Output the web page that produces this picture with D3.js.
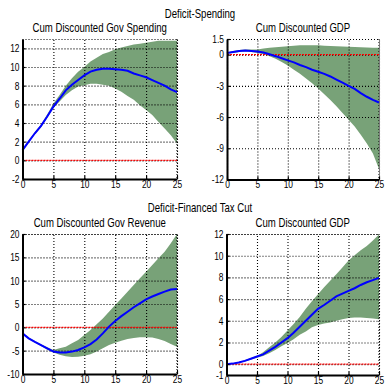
<!DOCTYPE html>
<html>
<head>
<meta charset="utf-8">
<script src="https://cdn.jsdelivr.net/npm/d3@7"></script>
<style>
  body { margin: 0; background: #fff; }
  text { font-family: "Liberation Sans", Arial, sans-serif; fill: #000; }
</style>
</head>
<body>
<div id="chart"></div>
<script>
// horizon (periods)
var periods = [0, 1, 2, 3, 4, 5, 6, 7, 8, 9, 10, 11, 12, 13, 14, 15, 16, 17, 18, 19, 20, 21, 22, 23, 24, 25];
var xTicks = [0, 5, 10, 15, 20, 25];

// Deficit-Spending: cum discounted gov spending
var spendMed = [1.1, 2.0, 2.9, 3.7, 4.7, 5.75, 6.6, 7.5, 8.1, 8.6, 9.1, 9.5, 9.7, 9.8, 9.8, 9.75, 9.7, 9.6, 9.3, 9.1, 8.9, 8.6, 8.3, 8.0, 7.6, 7.3];
var spendLo = [1.0, 1.9, 2.8, 3.55, 4.55, 5.6, 6.3, 7.0, 7.5, 7.9, 8.05, 8.2, 8.2, 8.1, 8.0, 7.7, 7.35, 6.9, 6.5, 5.9, 5.4, 4.85, 4.1, 3.4, 2.7, 1.8];
var spendHi = [1.2, 2.1, 3.0, 3.85, 4.9, 6.1, 7.0, 8.0, 8.8, 9.5, 10.0, 10.6, 11.0, 11.4, 11.6, 11.9, 12.1, 12.25, 12.4, 12.5, 12.6, 12.7, 12.8, 12.8, 12.8, 12.8];

// Deficit-Spending: cum discounted GDP
var gdpSpMed = [0.15, 0.25, 0.35, 0.4, 0.35, 0.3, 0.2, 0.03, -0.15, -0.35, -0.55, -0.75, -1.0, -1.2, -1.45, -1.65, -1.85, -2.1, -2.4, -2.7, -3.0, -3.3, -3.7, -4.05, -4.35, -4.6];
var gdpSpLo = [0.1, 0.15, 0.25, 0.3, 0.25, 0.15, 0.03, -0.15, -0.4, -0.7, -1.05, -1.45, -1.85, -2.3, -2.75, -3.25, -3.8, -4.35, -4.95, -5.6, -6.25, -6.9, -7.7, -8.55, -9.5, -11.0];
var gdpSpHi = [0.2, 0.35, 0.45, 0.5, 0.5, 0.5, 0.58, 0.65, 0.7, 0.75, 0.8, 0.85, 0.9, 0.9, 0.9, 0.9, 0.85, 0.82, 0.8, 0.78, 0.75, 0.72, 0.7, 0.68, 0.66, 0.65];

// Deficit-Financed Tax Cut: cum discounted gov revenue
var revMed = [-1.3, -2.35, -3.1, -3.8, -4.5, -5.2, -5.4, -5.4, -5.2, -4.85, -4.3, -3.6, -2.6, -1.3, 0.15, 1.35, 2.4, 3.35, 4.3, 5.15, 6.0, 6.6, 7.15, 7.65, 8.1, 8.2];
var revLo = [-1.4, -2.5, -3.25, -4.0, -4.8, -5.4, -5.9, -6.2, -6.35, -6.3, -6.1, -5.75, -5.2, -4.5, -3.8, -3.3, -2.85, -2.5, -2.3, -2.15, -2.15, -2.2, -2.5, -2.95, -3.55, -4.15];
var revHi = [-1.2, -2.2, -2.95, -3.6, -4.25, -4.85, -4.5, -4.15, -3.4, -2.7, -1.65, -0.55, 0.65, 1.9, 3.35, 4.8, 6.2, 7.65, 9.05, 10.5, 11.9, 13.35, 14.8, 16.2, 18.0, 20.0];

// Deficit-Financed Tax Cut: cum discounted GDP
var gdpTxMed = [0, 0.05, 0.15, 0.3, 0.5, 0.7, 0.9, 1.25, 1.6, 2.0, 2.4, 2.9, 3.45, 4.0, 4.55, 5.1, 5.45, 5.85, 6.25, 6.5, 6.75, 7.0, 7.3, 7.55, 7.75, 7.95];
var gdpTxLo = [-0.02, 0.02, 0.1, 0.24, 0.43, 0.6, 0.75, 1.0, 1.3, 1.65, 1.95, 2.3, 2.7, 3.0, 3.4, 3.6, 3.75, 3.85, 4.0, 4.15, 4.25, 4.3, 4.3, 4.25, 4.2, 4.15];
var gdpTxHi = [0.02, 0.08, 0.2, 0.36, 0.57, 0.75, 1.1, 1.55, 2.0, 2.5, 3.1, 3.7, 4.35, 5.1, 5.8, 6.45, 7.1, 7.7, 8.3, 8.9, 9.55, 10.05, 10.5, 10.9, 11.4, 11.95];

var yTicksSpend = [-2, 0, 2, 4, 6, 8, 10, 12];
var yTicksGdpSp = [-12, -9, -6, -3, 0, 1.5];
var yTicksRev = [-10, -5, 0, 5, 10, 15, 20];
var yTicksGdpTx = [-1, 0, 2, 4, 6, 8, 10, 12];

var width = 388, height = 386;
var bandColor = "#78a278";
var squeeze = 0.8;

var svg = d3.select("#chart").append("svg")
  .attr("width", width)
  .attr("height", height);

var panels = [
  {title: "Cum Discounted Gov Spending", med: spendMed, lo: spendLo, hi: spendHi,
   yDomain: [-2, 13], yTicks: yTicksSpend, box: {left: 22.5, right: 177, top: 39, bottom: 179}},
  {title: "Cum Discounted GDP", med: gdpSpMed, lo: gdpSpLo, hi: gdpSpHi,
   yDomain: [-12, 1.5], yTicks: yTicksGdpSp, box: {left: 227, right: 379, top: 39, bottom: 179.5}},
  {title: "Cum Discounted Gov Revenue", med: revMed, lo: revLo, hi: revHi,
   yDomain: [-10, 20], yTicks: yTicksRev, box: {left: 22.5, right: 177, top: 234, bottom: 374}},
  {title: "Cum Discounted GDP", med: gdpTxMed, lo: gdpTxLo, hi: gdpTxHi,
   yDomain: [-1, 12], yTicks: yTicksGdpTx, box: {left: 226.5, right: 379, top: 234, bottom: 375}}
];

// condensed-looking text: scale horizontally around the anchor point
function label(x, y, str, size) {
  svg.append("g")
    .attr("transform", "translate(" + x + "," + y + ")")
    .append("text")
    .attr("transform", "scale(" + squeeze + ",1)")
    .attr("text-anchor", "middle")
    .style("font-size", size + "px")
    .text(str);
}

label(200, 18, "Deficit-Spending", 12);
label(200, 212, "Deficit-Financed Tax Cut", 12);

panels.forEach(function (p) {
  var b = p.box;
  var w = b.right - b.left, h = b.bottom - b.top;
  var x = d3.scaleLinear().domain([0, 25]).range([0, w]);
  var y = d3.scaleLinear().domain(p.yDomain).range([h, 0]);

  var g = svg.append("g").attr("transform", "translate(" + b.left + "," + b.top + ")");

  var data = periods.map(function (t, i) {
    return {t: t, med: p.med[i], lo: p.lo[i], hi: p.hi[i]};
  });

  // confidence band
  g.append("path")
    .datum(data)
    .attr("fill", bandColor)
    .attr("d", d3.area()
      .x(function (d) { return x(d.t); })
      .y0(function (d) { return y(d.lo); })
      .y1(function (d) { return y(d.hi); }));

  // dotted grid
  g.append("g")
    .attr("class", "grid")
    .call(d3.axisBottom(x).tickValues(xTicks).tickSize(-h).tickFormat(""))
    .attr("transform", "translate(0," + h + ")");
  g.append("g")
    .attr("class", "grid")
    .call(d3.axisLeft(y).tickValues(p.yTicks).tickSize(-w).tickFormat(""));
  g.selectAll(".grid .domain").remove();
  g.selectAll(".grid line")
    .attr("stroke", "#000")
    .attr("stroke-width", 1.1)
    .attr("stroke-dasharray", "1,2");

  // dotted top and right edges
  g.append("line")
    .attr("x1", 0).attr("x2", w).attr("y1", 0.5).attr("y2", 0.5)
    .attr("stroke", "#000").attr("stroke-width", 1.1).attr("stroke-dasharray", "1,2");
  g.append("line")
    .attr("x1", w).attr("x2", w).attr("y1", 0).attr("y2", h)
    .attr("stroke", "#000").attr("stroke-width", 1.1).attr("stroke-dasharray", "1,2");

  // zero line
  g.append("line")
    .attr("x1", 0).attr("x2", w)
    .attr("y1", y(0)).attr("y2", y(0))
    .attr("stroke", "#ff0000")
    .attr("stroke-width", 1.2)
    .attr("stroke-dasharray", "2,1");

  // median response
  g.append("path")
    .datum(data)
    .attr("fill", "none")
    .attr("stroke", "#0000ff")
    .attr("stroke-width", 2)
    .attr("d", d3.line()
      .x(function (d) { return x(d.t); })
      .y(function (d) { return y(d.med); }));

  // solid axes
  var xAxis = g.append("g")
    .attr("transform", "translate(0," + h + ")")
    .call(d3.axisBottom(x).tickValues(xTicks).tickSize(-3).tickSizeOuter(0));
  var yAxis = g.append("g")
    .call(d3.axisLeft(y).tickValues(p.yTicks).tickSize(-3).tickSizeOuter(0)
      .tickFormat(function (d) { return String(d); }));

  [xAxis, yAxis].forEach(function (a) {
    a.select(".domain").attr("stroke", "#000").attr("stroke-width", 2);
    a.selectAll(".tick line").attr("stroke", "#000").attr("stroke-width", 1.2);
    a.selectAll("text")
      .style("font-size", "10.5px")
      .style("font-family", "'Liberation Sans', Arial, sans-serif")
      .attr("fill", "#000");
  });
  xAxis.selectAll("text")
    .attr("y", 1.5)
    .attr("transform", "scale(" + squeeze + ",1)");
  yAxis.selectAll("text")
    .attr("x", -3 / squeeze)
    .attr("transform", "scale(" + squeeze + ",1)");

  label(b.left + w / 2, b.top - 7, p.title, 12);
});
</script>
</body>
</html>
